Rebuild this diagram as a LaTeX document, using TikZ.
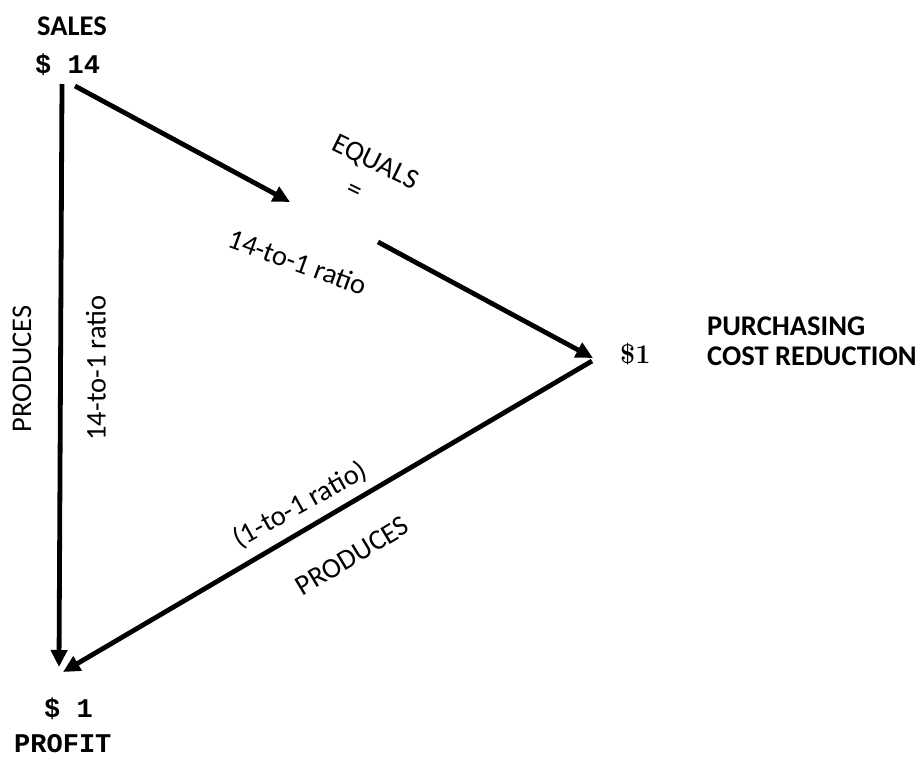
\documentclass[tikz,border=0pt]{standalone}
\usepackage{fontspec}
\newfontfamily\calfont{Carlito}
\newfontfamily\cmonofont{Liberation Mono}
\usetikzlibrary{arrows.meta}
\begin{document}
\begin{tikzpicture}[x=1pt,y=-1pt,
  lbl/.style={inner sep=0pt, font=\calfont\fontsize{28.5}{30}\selectfont},
  blbl/.style={inner sep=0pt, font=\calfont\bfseries\fontsize{28.5}{30}\selectfont},
  money/.style={inner sep=0pt, font=\cmonofont\bfseries\fontsize{27}{30}\selectfont},
  money2/.style={inner sep=0pt, font=\rmfamily\bfseries\fontsize{27}{30}\selectfont},
  conn/.style={line width=4.8pt, -{Triangle[length=17pt,width=16pt]}}]
\useasboundingbox (0,0) rectangle (923,758);

% value nodes
\node[blbl, anchor=base west] (salesT) at (37,35) {SALES};
\node[money, anchor=base west] (sales) at (35,73) {\$ 14};
\node[money2, anchor=base west] (pc) at (620,363) {\$1};
\node[blbl, anchor=base west] (pur1) at (707,335) {PURCHASING};
\node[blbl, anchor=base west] (pur2) at (707,365) {COST REDUCTION};
\node[money, anchor=base west] (profit) at (44,717) {\$ 1};
\node[money, anchor=base west] (profitT) at (14,752) {PROFIT};

% connector end points
\coordinate (v1) at (62,84);
\coordinate (v2) at (59,667);
\coordinate (t1) at (75,86);
\coordinate (t2) at (290,202);
\coordinate (t3) at (378,242);
\coordinate (t4) at (593,358);
\coordinate (b1) at (592,361);
\coordinate (b2) at (63,672);

\draw[conn] (v1) -- (v2);
\draw[conn] (t1) -- (t2);
\draw[conn] (t3) -- (t4);
\draw[conn] (b1) -- (b2);

% labels
\node[lbl, rotate=90] (prodV) at (22,369) {PRODUCES};
\node[lbl, rotate=90] (ratioV) at (96,368) {14-to-1 ratio};
\node[lbl, rotate=-26] (eq) at (375,163) {EQUALS};
\node[lbl, rotate=-26] (eqs) at (354,192) {=};
\node[lbl, rotate=-20] (ratioT) at (298,262) {14-to-1 ratio};
\node[lbl, rotate=29] (ratioB) at (300,505) {(1-to-1 ratio)};
\node[lbl, rotate=31] (prodB) at (352,556) {PRODUCES};
\end{tikzpicture}
\end{document}
